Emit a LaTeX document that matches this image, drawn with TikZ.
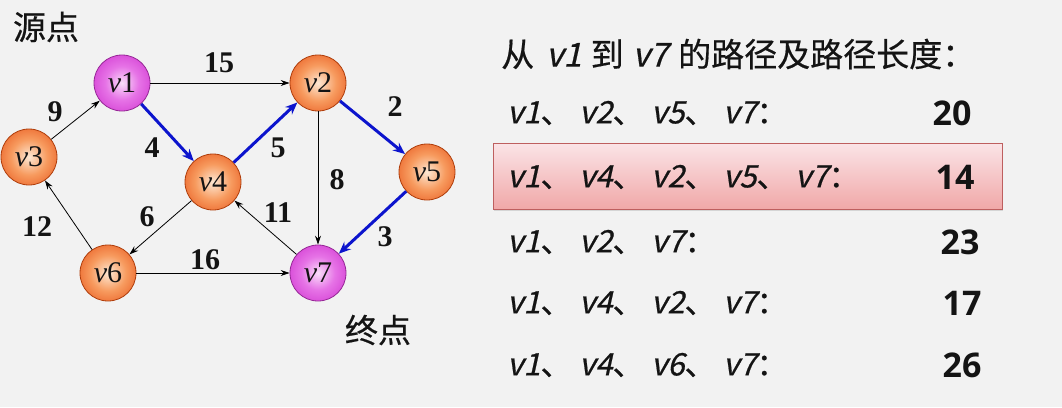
\documentclass[tikz,border=0pt]{standalone}
\usepackage{fontspec}
\setmainfont{Liberation Serif}
\newfontfamily\cjk[FakeBold=0.5]{Noto Sans CJK SC}
\newfontfamily\cjksl[FakeSlant=0.22,FakeBold=0.6]{Noto Sans CJK SC}
\newfontfamily\numf{Open Sans}
\usetikzlibrary{arrows.meta,shadows}
\definecolor{bg}{RGB}{242,242,242}
\definecolor{orC}{RGB}{253,232,212}
\definecolor{orM}{RGB}{247,155,95}
\definecolor{orE}{RGB}{230,80,22}
\definecolor{orL}{RGB}{175,62,12}
\definecolor{mgC}{RGB}{250,222,250}
\definecolor{mgM}{RGB}{230,115,230}
\definecolor{mgE}{RGB}{208,52,208}
\definecolor{mgL}{RGB}{150,40,150}
\definecolor{eblue}{RGB}{12,20,205}
\definecolor{txt}{RGB}{20,20,20}
\definecolor{hlT}{RGB}{251,228,231}
\definecolor{hlB}{RGB}{240,168,168}
\definecolor{hlD}{RGB}{190,95,95}
\pgfdeclareradialshading{orball}{\pgfpoint{0bp}{0bp}}{color(0bp)=(orC); color(16bp)=(orM); color(36bp)=(orE); color(50bp)=(orE)}
\pgfdeclareradialshading{mgball}{\pgfpoint{0bp}{0bp}}{color(0bp)=(mgC); color(15bp)=(mgM); color(34bp)=(mgE); color(50bp)=(mgE)}
\newcommand\pv[1]{\makebox[72pt][l]{{\cjksl #1}\cjk 、}}
\newcommand\pe[1]{{\cjksl #1}{\cjk ：}}
\tikzset{
  ballO/.style={circle, minimum size=56pt, inner sep=0pt, draw=orL, line width=0.8pt, shading=orball, text=txt, font=\fontsize{30}{30}\selectfont},
  ballM/.style={circle, minimum size=56pt, inner sep=0pt, draw=mgL, line width=0.8pt, shading=mgball, text=txt, font=\fontsize{30}{30}\selectfont},
  blk/.style={-{Stealth[length=9pt,width=6pt]}, line width=0.8pt, black},
  blu/.style={-{Stealth[length=12pt,width=10pt]}, line width=3pt, eblue},
  wt/.style={font=\fontsize{30}{30}\selectfont\bfseries, text=txt},
  captxt/.style={font=\cjk\fontsize{33}{33}\selectfont, text=txt},
  rowtxt/.style={anchor=west, inner sep=0pt, font=\fontsize{31}{31}\selectfont, text=txt},
  numtxt/.style={inner sep=0pt, font=\numf\bfseries\fontsize{34}{34}\selectfont, text=txt},
  hlbox/.style={draw=hlD, line width=0.8pt, top color=hlT, bottom color=hlB, drop shadow={shadow xshift=1pt, shadow yshift=-2pt, opacity=0.25}}
}
\begin{document}
\begin{tikzpicture}[x=1pt,y=-1pt]
\fill[bg] (0,0) rectangle (1062,407);
\useasboundingbox (0,0) rectangle (1062,407);
% graph nodes
\node[ballM] (v1) at (122,83) {\textit{v}1};
\node[ballO] (v2) at (318,83) {\textit{v}2};
\node[ballO] (v3) at (29,157) {\textit{v}3};
\node[ballO] (v4) at (213,182) {\textit{v}4};
\node[ballO] (v5) at (427,172) {\textit{v}5};
\node[ballO] (v6) at (108,273) {\textit{v}6};
\node[ballM] (v7) at (318,273) {\textit{v}7};
% edges
\draw[blk] (v1) -- (v2);
\draw[blk] (v3) -- (v1);
\draw[blk] (v2) -- (v7);
\draw[blk] (v4) -- (v6);
\draw[blk] (v7) -- (v4);
\draw[blk] (v6) -- (v3);
\draw[blk] (v6) -- (v7);
\draw[blu] (v1) -- (v4);
\draw[blu] (v4) -- (v2);
\draw[blu] (v2) -- (v5);
\draw[blu] (v5) -- (v7);
% weights
\node[wt] (w15) at (219,63) {15};
\node[wt] (w9) at (55,112) {9};
\node[wt] (w4) at (152,148) {4};
\node[wt] (w5) at (278,148) {5};
\node[wt] (w2) at (395,107) {2};
\node[wt] (w8) at (337,180) {8};
\node[wt] (w6) at (147,217) {6};
\node[wt] (w11) at (278,213) {11};
\node[wt] (w12) at (37,227) {12};
\node[wt] (w3) at (385,237) {3};
\node[wt] (w16) at (205,260) {16};
% captions
\node[captxt] (src) at (46,27) {源点};
\node[captxt] (dst) at (378,330) {终点};
% highlight box
\draw[hlbox] (493,143) rectangle (1002,209);
% right text
\node[rowtxt, font=\fontsize{33}{33}\selectfont] (title) at (501,54) {{\cjk 从}\hspace{12pt}{\cjksl v1}\hspace{9pt}{\cjk 到}\hspace{9pt}{\cjksl v7}\hspace{10pt}{\cjk 的路径及路径长度：}};
\node[rowtxt] (r1) at (507,113) {\pv{v1}\pv{v2}\pv{v5}\pe{v7}};
\node[rowtxt] (r2) at (507,177) {\pv{v1}\pv{v4}\pv{v2}\pv{v5}\pe{v7}};
\node[rowtxt] (r3) at (507,242) {\pv{v1}\pv{v2}\pe{v7}};
\node[rowtxt] (r4) at (507,303) {\pv{v1}\pv{v4}\pv{v2}\pe{v7}};
\node[rowtxt] (r5) at (507,365) {\pv{v1}\pv{v4}\pv{v6}\pe{v7}};
\node[numtxt] (n1) at (952,113) {20};
\node[numtxt] (n2) at (955,177) {14};
\node[numtxt] (n3) at (960,242) {23};
\node[numtxt] (n4) at (962,303) {17};
\node[numtxt] (n5) at (962,365) {26};
\end{tikzpicture}
\end{document}
